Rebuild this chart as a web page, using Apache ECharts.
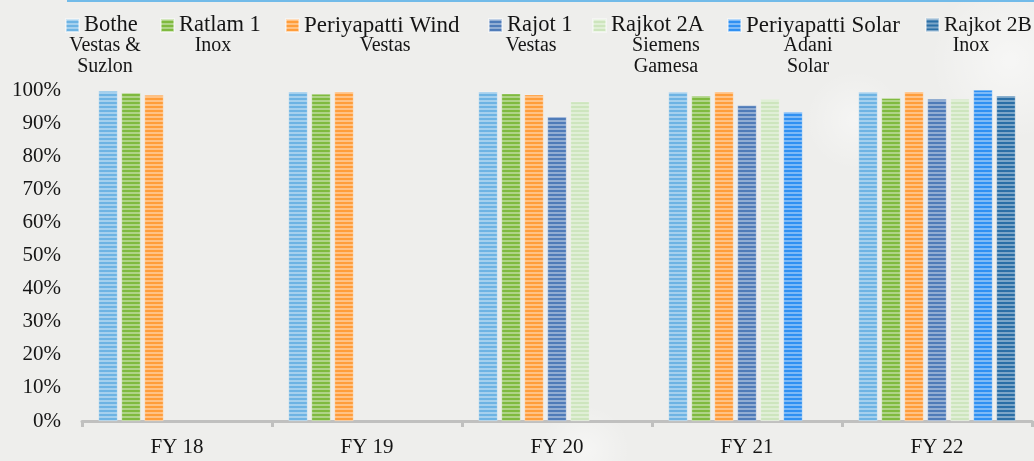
<!DOCTYPE html>
<html>
<head>
<meta charset="utf-8">
<script src="https://cdn.jsdelivr.net/npm/echarts@6/dist/echarts.min.js"></script>
<style>
  html, body { margin: 0; padding: 0; background: #eeeeec; }
  #chart { width: 1034px; height: 461px; }
</style>
</head>
<body>
<div id="chart"></div>
<script>
// Plant availability by financial year
const categories = ['FY 18', 'FY 19', 'FY 20', 'FY 21', 'FY 22'];
const seriesNames = ['Bothe', 'Ratlam 1', 'Periyapatti Wind', 'Rajot 1', 'Rajkot 2A', 'Periyapatti Solar', 'Rajkot 2B'];
const makers = [['Vestas &', 'Suzlon'], ['Inox'], ['Vestas'], ['Vestas'], ['Siemens', 'Gamesa'], ['Adani', 'Solar'], ['Inox']];

const bothe            = [99.7, 99.5, 99.5, 99.4, 99.4];
const ratlam1          = [99.1, 98.8, 98.9, 98.3, 97.5];
const periyapattiWind  = [98.5, 99.5, 98.6, 99.5, 99.5];
const rajot1           = [null, null, 91.9, 95.3, 97.3];
const rajkot2A         = [null, null, 96.5, 97.2, 97.3];
const periyapattiSolar = [null, null, null, 93.4, 100];
const rajkot2B         = [null, null, null, null, 98.3];
const yTicks = [0, 10, 20, 30, 40, 50, 60, 70, 80, 90, 100];

const seriesData = [bothe, ratlam1, periyapattiWind, rajot1, rajkot2A, periyapattiSolar, rajkot2B];
const colors = ['#6db3e3', '#7fba3f', '#ff9d3a', '#4f7bb8', '#cde5bd', '#2f90f2', '#2b6fa6'];

// legend item placement (left edge of icon), text size, and caption centres
const legendLeft = [65, 160, 285, 488, 592, 727, 925];
const legendSize = [22.5, 22.5, 23, 22.5, 22.5, 23, 21.5];
const captionCenter = [105, 213, 385, 531, 666, 808, 971];

const FONT = '"Liberation Serif", "DejaVu Serif", serif';

const stripes = {
  symbol: 'rect',
  symbolSize: 1,
  color: 'rgba(255,255,255,0.38)',
  dashArrayX: [1, 0],
  dashArrayY: [2, 2],
  rotation: 0
};

const series = seriesNames.map((name, i) => ({
  name: name,
  type: 'bar',
  data: seriesData[i],
  barWidth: 19,
  barGap: '21%',
  itemStyle: { color: colors[i], decal: stripes, borderColor: 'rgba(255,255,255,0.25)', borderWidth: 0.6 },
  emphasis: { disabled: true }
}));

const legends = seriesNames.map((name, i) => ({
  data: [{ name: name, icon: 'rect' }],
  left: legendLeft[i],
  top: 14,
  padding: 0,
  itemWidth: 13,
  itemHeight: 13,
  itemGap: 0,
  selectedMode: false,
  textStyle: { fontFamily: FONT, fontSize: legendSize[i], color: '#151515', padding: [2, 0, 0, 0] }
}));

const captions = [];
makers.forEach((lines, i) => {
  lines.forEach((t, j) => {
    captions.push({
      type: 'text',
      silent: true,
      x: captionCenter[i],
      y: 46 + j * 21,
      style: { text: t, fontFamily: FONT, fontSize: 20, fill: '#151515', align: 'center', verticalAlign: 'middle' }
    });
  });
});

// soft light glows in the backdrop
function glow(cx, cy, r, o) {
  return {
    type: 'circle',
    silent: true,
    z: -10,
    shape: { cx: cx, cy: cy, r: r },
    style: {
      fill: {
        type: 'radial', x: 0.5, y: 0.5, r: 0.5,
        colorStops: [
          { offset: 0, color: 'rgba(255,255,255,' + o + ')' },
          { offset: 1, color: 'rgba(255,255,255,0)' }
        ]
      }
    }
  };
}
const haze = [
  glow(1010, 60, 80, 0.5),
  glow(855, 120, 50, 0.4),
  glow(585, 450, 45, 0.45)
];

const chart = echarts.init(document.getElementById('chart'), null, { renderer: 'canvas' });
chart.setOption({
  backgroundColor: '#eeeeec',
  animation: false,
  color: colors,
  legend: legends,
  grid: { left: 82, right: 2, top: 90, bottom: 40, containLabel: false },
  xAxis: {
    type: 'category',
    data: categories,
    boundaryGap: true,
    axisLine: { show: true, lineStyle: { color: '#c0c0bf', width: 3 } },
    axisTick: { show: true, interval: 0, length: 6, lineStyle: { color: '#c0c0bf', width: 3 } },
    axisLabel: { fontFamily: FONT, fontSize: 21, color: '#151515', margin: 16 }
  },
  yAxis: {
    type: 'value',
    min: yTicks[0],
    max: yTicks[yTicks.length - 1],
    interval: yTicks[1] - yTicks[0],
    splitLine: { show: false },
    axisLine: { show: false },
    axisTick: { show: false },
    axisLabel: { fontFamily: FONT, fontSize: 21, color: '#151515', margin: 21, formatter: '{value}%' }
  },
  graphic: [
    ...haze,
    { type: 'rect', silent: true, shape: { x: 67, y: 0, width: 967, height: 2 }, style: { fill: '#72bbe9' } },
    ...captions
  ],
  series: series
});
</script>
</body>
</html>
